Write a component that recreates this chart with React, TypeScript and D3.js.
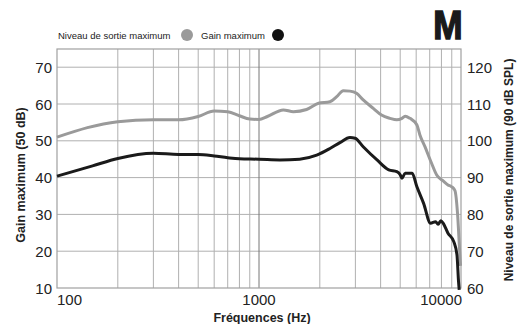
import React from "react";
import * as d3 from "d3";

const freqGain = [100, 150, 200, 300, 400, 500, 600, 700, 800, 1000, 1270, 1590, 1930, 2245, 2515, 2820, 2990, 3280, 3840, 4390, 4810, 5000, 5100, 5290, 5730, 6050, 6530, 7070, 7490, 7700, 7950, 8160, 8620, 9210, 9550, 9730, 9800];
const gainMax = [40.4, 43.2, 45.2, 46.6, 46.3, 46.3, 45.9, 45.4, 45.1, 45.0, 44.8, 45.0, 46.1, 47.9, 49.5, 50.9, 50.7, 48.4, 44.8, 42.1, 41.6, 40.8, 39.8, 41.2, 41.2, 37.5, 33.0, 27.6, 28.0, 27.3, 28.3, 27.6, 24.9, 22.6, 19.0, 11.5, 9.5];

const freqOut = [100, 200, 300, 400, 500, 600, 700, 800, 900, 1000, 1100, 1320, 1480, 1720, 1970, 2245, 2425, 2614, 2820, 3040, 3280, 3680, 4040, 4450, 4810, 5100, 5290, 5590, 6050, 6260, 6630, 7150, 7580, 8160, 8620, 9000, 9330, 9620, 9850, 9950];
const outputMax = [101, 105.2, 105.7, 105.7, 106.6, 108.1, 107.9, 106.8, 105.9, 105.8, 106.6, 108.4, 107.9, 108.5, 110.2, 110.6, 112, 113.6, 113.5, 112.9, 111.1, 108.8, 107, 106.1, 105.7, 106.1, 106.7, 106.1, 104.3, 101.6, 98.4, 93.9, 90.7, 89.1, 88, 87.5, 86.5, 80, 70, 66];

const leftTicks = [10, 20, 30, 40, 50, 60, 70];
const rightTicks = [60, 70, 80, 90, 100, 110, 120];
const xLabels = [100, 1000, 10000];

const FONT = "'Liberation Sans', Arial, Helvetica, sans-serif";

export default function App() {
  const W = 517, H = 324;
  const L = 57, R = 461, T = 49, B = 288;
  const x = d3.scaleLog().domain([100, 10000]).range([L, R]);
  const yL = d3.scaleLinear().domain([10, 10 + (B - T) / 3.68]).range([B, T]);
  const yR = d3.scaleLinear().domain([60, 60 + (B - T) / 3.68]).range([B, T]);

  const minorX: number[] = [];
  [100, 1000].forEach((d) => {
    for (let k = 2; k <= 9; k++) minorX.push(d * k);
  });

  const lineGain = d3
    .line<number>()
    .x((_, i) => x(freqGain[i]))
    .y((d) => yL(d))
    .curve(d3.curveMonotoneX);
  const lineOut = d3
    .line<number>()
    .x((_, i) => x(freqOut[i]))
    .y((d) => yR(d))
    .curve(d3.curveMonotoneX);

  return (
    <svg width={W} height={H} style={{ position: "absolute", left: 0, top: 0, background: "#fff" }} fontFamily={FONT}>
      {/* grid */}
      {leftTicks.slice(1).map((t) => (
        <line key={"h" + t} x1={L} x2={R} y1={yL(t)} y2={yL(t)} stroke="#b0b0b0" strokeWidth={1} />
      ))}
      {minorX.map((f) => (
        <line key={"v" + f} x1={x(f)} x2={x(f)} y1={T} y2={B} stroke="#b0b0b0" strokeWidth={1} />
      ))}
      <line x1={x(1000)} x2={x(1000)} y1={T} y2={B} stroke="#777" strokeWidth={1} />
      <rect x={L} y={T} width={R - L} height={B - T} fill="none" stroke="#a0a0a0" strokeWidth={1.2} />

      {/* curves */}
      <path d={lineOut(outputMax) || ""} fill="none" stroke="#9a9a9a" strokeWidth={3} strokeLinejoin="round" />
      <path d={lineGain(gainMax) || ""} fill="none" stroke="#1a1a1a" strokeWidth={3} strokeLinejoin="round" />

      {/* left ticks */}
      {leftTicks.map((t) => (
        <text key={"l" + t} x={52} y={yL(t) + 5.5} textAnchor="end" fontSize={15} fill="#222">
          {t}
        </text>
      ))}
      {rightTicks.map((t) => (
        <text key={"r" + t} x={467} y={yR(t) + 5.5} textAnchor="start" fontSize={15} fill="#222">
          {t}
        </text>
      ))}
      {xLabels.map((f, i) => (
        <text
          key={"x" + f}
          x={i === 0 ? L : i === xLabels.length - 1 ? R + 1 : x(f)}
          y={305}
          textAnchor={i === 0 ? "start" : i === xLabels.length - 1 ? "end" : "middle"}
          fontSize={15}
          fill="#222"
        >
          {f}
        </text>
      ))}

      {/* axis titles */}
      <text x={262} y={322} textAnchor="middle" fontSize={12.5} fontWeight="bold" fill="#222">
        Fréquences (Hz)
      </text>
      <text transform="translate(25,175) rotate(-90)" textAnchor="middle" fontSize={12.5} fontWeight="bold" fill="#222">
        Gain maximum (50 dB)
      </text>
      <text transform="translate(513,170) rotate(-90)" textAnchor="middle" fontSize={12} fontWeight="bold" fill="#222">
        Niveau de sortie maximum (90 dB SPL)
      </text>

      {/* legend */}
      <text x={58} y={39} fontSize={9.5} fill="#222">
        Niveau de sortie maximum
      </text>
      <circle cx={187} cy={35} r={6} fill="#9a9a9a" />
      <text x={201} y={39} fontSize={9.5} fill="#222">
        Gain maximum
      </text>
      <circle cx={278} cy={35} r={6} fill="#111" />

      <text
        x={448}
        y={39}
        textAnchor="middle"
        fontSize={40}
        fontWeight="bold"
        fill="#1a1a1a"
        stroke="#1a1a1a"
        strokeWidth={1.5}
        transform="translate(448,0) scale(0.88,1) translate(-448,0)"
      >
        M
      </text>
    </svg>
  );
}
